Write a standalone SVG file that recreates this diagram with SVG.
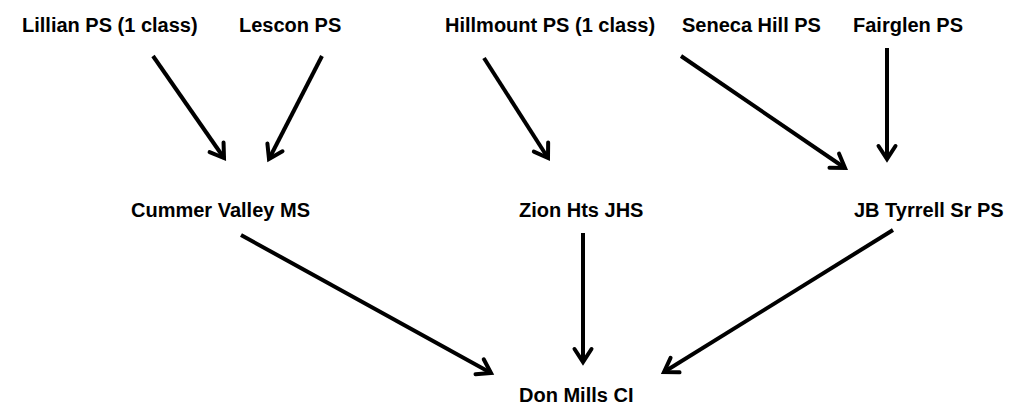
<svg xmlns="http://www.w3.org/2000/svg" width="1016" height="406" viewBox="0 0 1016 406">
<style>
.lbl{font-family:"Liberation Sans",Arial,sans-serif;font-weight:bold;font-size:20px;fill:#000}
.arr{stroke:#000;stroke-width:4;fill:none;marker-end:url(#head)}
</style>
<defs>
<marker id="head" markerUnits="userSpaceOnUse" viewBox="-16 -11 20 22" refX="0" refY="0" markerWidth="20" markerHeight="22" orient="auto" overflow="visible">
<path d="M-13,-8.5 L0,0 L-13,8.5" fill="none" stroke="#000" stroke-width="4" stroke-linecap="round" stroke-linejoin="miter"/>
</marker>
</defs>
<rect width="1016" height="406" fill="#fff"/>
<g id="lillian"><text class="lbl" x="22" y="32">Lillian PS (1 class)</text></g>
<g id="lescon"><text class="lbl" x="239" y="32">Lescon PS</text></g>
<g id="hillmount"><text class="lbl" x="445" y="32">Hillmount PS (1 class)</text></g>
<g id="seneca"><text class="lbl" x="682" y="32">Seneca Hill PS</text></g>
<g id="fairglen"><text class="lbl" x="853" y="32">Fairglen PS</text></g>
<g id="cummer"><text class="lbl" x="131" y="217">Cummer Valley MS</text></g>
<g id="zion"><text class="lbl" x="519" y="217">Zion Hts JHS</text></g>
<g id="jbtyrrell"><text class="lbl" x="854" y="217">JB Tyrrell Sr PS</text></g>
<g id="donmills"><text class="lbl" x="519" y="402">Don Mills CI</text></g>
<g id="connectors">
<line class="arr" x1="153" y1="56" x2="224" y2="158"/>
<line class="arr" x1="322" y1="56" x2="269" y2="159"/>
<line class="arr" x1="484" y1="58" x2="548" y2="158"/>
<line class="arr" x1="681" y1="56" x2="845" y2="168"/>
<line class="arr" x1="887" y1="48" x2="887" y2="159"/>
<line class="arr" x1="241" y1="235" x2="491" y2="373"/>
<line class="arr" x1="583" y1="233" x2="583" y2="362"/>
<line class="arr" x1="893" y1="230" x2="664" y2="372"/>
</g>
</svg>
